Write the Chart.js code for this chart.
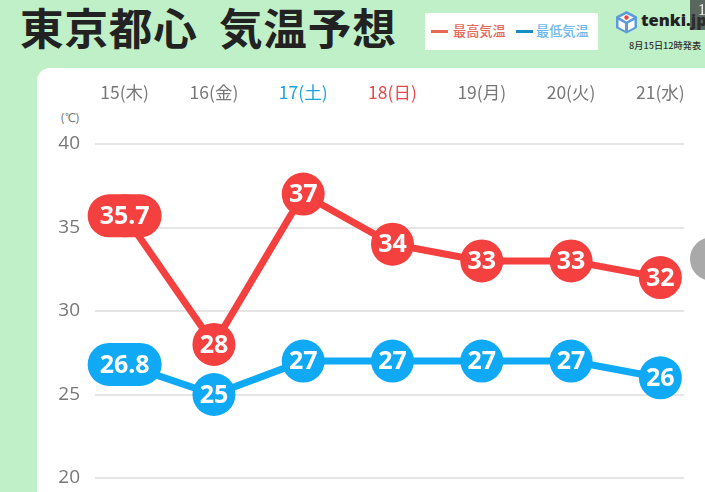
<!DOCTYPE html>
<html lang="ja">
<head>
<meta charset="utf-8">
<style>
html,body{margin:0;padding:0;background:#bff0c8;overflow:hidden}
#stage{position:relative;width:705px;height:492px;overflow:hidden;background:#bff0c8;font-family:"Noto Sans CJK JP",sans-serif}
#card{position:absolute;left:37px;top:68px;width:700px;height:460px;background:#fff;border-radius:13px}
#title{position:absolute;left:20px;top:-3px;font-size:43.6px;line-height:58px;font-weight:700;color:#222;white-space:pre;letter-spacing:0.8px}
#legend{position:absolute;left:425px;top:13px;width:173px;height:37px;background:#fff}
#legend i{position:absolute;top:17px;width:17px;height:3px}
#legend span{position:absolute;top:9px;font-size:13.2px;line-height:18px;font-weight:500}
#logoText{position:absolute;left:641px;top:6px;font:800 16.5px/28px "Open Sans",sans-serif;color:#222;white-space:nowrap}
#issued{position:absolute;left:629px;top:38px;font-size:9.2px;line-height:14px;font-weight:500;color:#333;white-space:nowrap}
#logo{position:absolute;left:615px;top:10px}
#unit{position:absolute;left:61px;top:110px;font:12px/16px "Open Sans",sans-serif;color:#777}
#corner{position:absolute;left:690px;top:0;width:15px;height:30px;background:rgba(50,50,50,.72);border-bottom-left-radius:3px;color:#eee;font:16px/20px "Liberation Serif",serif;padding-left:8px;box-sizing:border-box}
#dot{position:absolute;left:690px;top:237px;width:44px;height:44px;border-radius:50%;background:#a9a9a9}
canvas{position:absolute;left:0;top:0}
</style>
</head>
<body>
<div id="stage">
  <div id="card"></div>
  <div id="title">東京都心  気温予想</div>
  <div id="legend">
    <i style="left:6px;background:#e8685a"></i><span style="left:28px;color:#e8685a">最高気温</span>
    <i style="left:91px;background:#1a8cc0"></i><span style="left:111px;color:#6db8ea">最低気温</span>
  </div>
  <svg id="logo" width="23" height="24" viewBox="0 0 23 24">
    <path d="M11.5 1 22 6.5V18L11.5 23.5 1 18V6.5Z" fill="#5a9bd8"/>
    <path d="M11.5 4 18.5 7.6 11.5 11.4 4.5 7.6Z" fill="#fff"/>
    <path d="M3.5 10 10 13.5V20.5L3.5 17Z" fill="#fff"/>
    <path d="M19.5 10 13 13.5V20.5L19.5 17Z" fill="#fff"/>
    <circle cx="11.5" cy="7.5" r="2.2" fill="#e8483f"/>
  </svg>
  <div id="logoText">tenki.jp</div>
  <div id="issued">8月15日12時発表</div>
  <div id="unit">(℃)</div>
  <canvas id="c" width="705" height="492"></canvas>
  <div id="dot"></div>
  <div id="corner">1</div>
</div>
<script src="https://cdn.jsdelivr.net/npm/chart.js@4/dist/chart.umd.min.js"></script>
<script>
const categories = ["15(木)","16(金)","17(土)","18(日)","19(月)","20(火)","21(水)"];
const tickColors = ["#777777","#777777","#1ba3dd","#e8484a","#777777","#777777","#777777"];
const highTemps = [35.7,28,37,34,33,33,32];
const lowTemps = [26.8,25,27,27,27,27,26];
const RED = "#f4403f", BLUE = "#0fa9f5";

const decor = {
  id:"decor",
  beforeDatasetsDraw(chart){
    const {ctx,scales:{y}} = chart;
    ctx.save();
    ctx.strokeStyle = "#dcdcdc"; ctx.lineWidth = 1.5;
    y.ticks.forEach(t=>{
      const py = Math.round(y.getPixelForValue(t.value));
      ctx.beginPath(); ctx.moveTo(95,py); ctx.lineTo(684,py); ctx.stroke();
    });
    ctx.restore();
  },
  afterDatasetsDraw(chart){
    const {ctx} = chart;
    ctx.save();
    chart.data.datasets.forEach((ds,i)=>{
      const pts = chart.getDatasetMeta(i).data;
      pts.forEach((p,j)=>{
        const v = ds.data[j], txt = String(v);
        if(txt.includes(".")){
          ctx.fillStyle = ds.backgroundColor;
          ctx.beginPath();
          ctx.roundRect(p.x-37,p.y-21.5,74,43,21.5);
          ctx.fill();
        }
        ctx.fillStyle = "#fff";
        ctx.font = '700 25px "Open Sans",sans-serif';
        ctx.textAlign = "center"; ctx.textBaseline = "middle";
        ctx.fillText(txt,p.x,p.y+1);
      });
    });
    ctx.restore();
  }
};

new Chart(document.getElementById("c"),{
  type:"line",
  data:{labels:categories,datasets:[
    {label:"最高気温",data:highTemps,borderColor:RED,backgroundColor:RED,borderWidth:7,pointRadius:21.5,pointHoverRadius:21.5,pointBackgroundColor:RED,pointBorderWidth:0,tension:0},
    {label:"最低気温",data:lowTemps,borderColor:BLUE,backgroundColor:BLUE,borderWidth:7,pointRadius:21.5,pointHoverRadius:21.5,pointBackgroundColor:BLUE,pointBorderWidth:0,tension:0}
  ]},
  options:{
    responsive:false,animation:false,
    layout:{autoPadding:false,padding:{top:78,bottom:14,left:0,right:0}},
    plugins:{legend:{display:false},tooltip:{enabled:false}},
    scales:{
      x:{position:"top",offset:true,
        grid:{display:false,drawTicks:false},border:{display:false},
        afterFit(s){s.height=66;s.paddingLeft=0;s.paddingRight=0},
        ticks:{padding:41,maxRotation:0,autoSkip:false,
          color:c=>tickColors[c.index],
          font:{family:'"Noto Sans CJK JP"',size:17.5}}},
      y:{min:20,max:40,
        grid:{display:false,drawTicks:false},border:{display:false},
        afterFit(s){s.width=80;s.paddingTop=0;s.paddingBottom=0},
        ticks:{stepSize:5,padding:0,color:"#777777",font:{family:'"Open Sans"',size:19}}}
    }
  },
  plugins:[decor]
});
</script>
</body>
</html>
